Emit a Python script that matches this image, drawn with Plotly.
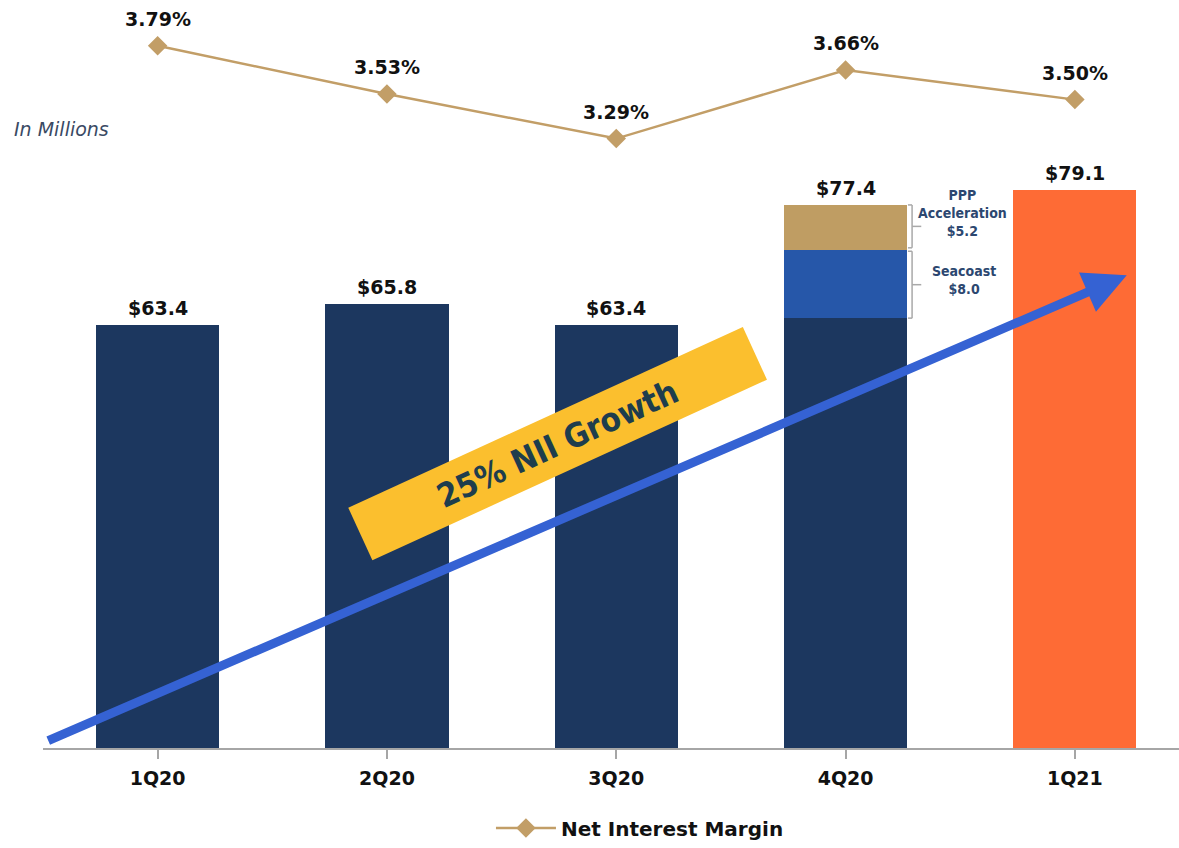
import plotly.graph_objects as go

# Net interest income by quarter (in millions) and net interest margin
quarters = ["1Q20", "2Q20", "3Q20", "4Q20", "1Q21"]
nii_total = [63.4, 65.8, 63.4, 77.4, 79.1]
seacoast_4q20 = 8.0
ppp_accel_4q20 = 5.2
nim_pct = [3.79, 3.53, 3.29, 3.66, 3.50]

NAVY = "#1c375f"
ORANGE = "#fe6b35"
GOLD = "#bf9d63"
MIDBLUE = "#2657a9"
LINE_GOLD = "#c29e67"
ARROW_BLUE = "#3562d3"
YELLOW = "#fbbf2e"
LABEL_BLUE = "#2c4770"
BOLD_FONT = "DejaVu Sans"
NARROW = "DejaVu Sans Condensed, Roboto, sans-serif"

core = [
    t - seacoast_4q20 - ppp_accel_4q20 if q == "4Q20" else t
    for q, t in zip(quarters, nii_total)
]
seacoast = [seacoast_4q20 if q == "4Q20" else None for q in quarters]
ppp = [ppp_accel_4q20 if q == "4Q20" else None for q in quarters]
core_colors = [ORANGE if q == "1Q21" else NAVY for q in quarters]

fig = go.Figure()
fig.add_trace(go.Bar(x=quarters, y=core, marker=dict(color=core_colors, line_width=0),
                     showlegend=False, hoverinfo="skip"))
fig.add_trace(go.Bar(x=quarters, y=seacoast, marker=dict(color=MIDBLUE, line_width=0),
                     showlegend=False, hoverinfo="skip"))
fig.add_trace(go.Bar(x=quarters, y=ppp, marker=dict(color=GOLD, line_width=0),
                     showlegend=False, hoverinfo="skip"))
fig.add_trace(go.Scatter(
    x=quarters, y=nim_pct, yaxis="y2", name="Net Interest Margin",
    mode="lines+markers",
    line=dict(color=LINE_GOLD, width=2.5),
    marker=dict(symbol="diamond", size=15, color=LINE_GOLD),
))

annotations = []
# Total NII labels above bars
for q, t in zip(quarters, nii_total):
    annotations.append(dict(x=q, y=t, xref="x", yref="y", text=f"${t:.1f}",
                            showarrow=False, yanchor="bottom", yshift=4,
                            font=dict(family=BOLD_FONT, size=19, color="#111111", weight="bold")))
# NIM labels above markers
for q, v in zip(quarters, nim_pct):
    annotations.append(dict(x=q, y=v, xref="x", yref="y2", text=f"{v:.2f}%",
                            showarrow=False, yanchor="bottom", yshift=14,
                            font=dict(family=BOLD_FONT, size=19, color="#111111", weight="bold")))

# Bracket labels for 4Q20 components
base_4q = nii_total[3] - seacoast_4q20 - ppp_accel_4q20
annotations.append(dict(x=3.51, y=base_4q + seacoast_4q20 + ppp_accel_4q20 / 2, xref="x", yref="y",
                        text=f"PPP<br>Acceleration<br>${ppp_accel_4q20:.1f}", showarrow=False,
                        yshift=14, align="center",
                        font=dict(family=NARROW, size=14, color=LABEL_BLUE, weight="bold")))
annotations.append(dict(x=3.515, y=base_4q + seacoast_4q20 / 2, xref="x", yref="y",
                        text=f"Seacoast<br>${seacoast_4q20:.1f}", showarrow=False,
                        yshift=4, align="center",
                        font=dict(family=NARROW, size=14, color=LABEL_BLUE, weight="bold")))

# Growth arrow
annotations.append(dict(x=0.954, y=0.632, xref="paper", yref="paper", text="",
                        showarrow=True, ax=-1080, ay=466, axref="pixel", ayref="pixel",
                        arrowhead=2, arrowsize=0.95, arrowwidth=9, arrowcolor=ARROW_BLUE))

# Growth banner
annotations.append(dict(x=0.4533, y=0.4073, xref="paper", yref="paper",
                        text="25% NII Growth", showarrow=False, textangle=-24.6,
                        width=433, height=57, bgcolor=YELLOW, borderpad=0,
                        font=dict(family=NARROW, size=33, color="#1e3d4d", weight="bold")))

# Unit note
annotations.append(dict(x=-0.027, y=0.827, xref="paper", yref="paper", text="In Millions",
                        showarrow=False, xanchor="left", yanchor="middle",
                        font=dict(family="DejaVu Sans", size=19, color="#3a4a64", style="italic")))

# Brackets beside the 4Q20 stack
shapes = []
bracket_color = "#a9a9a9"
def bracket(y_top, y_bot):
    xv, xl, xr = 3.29, 3.272, 3.33
    ym = (y_top + y_bot) / 2
    segs = [(xv, y_top, xv, y_bot), (xl, y_top, xv, y_top), (xl, y_bot, xv, y_bot), (xv, ym, xr, ym)]
    for x0, y0, x1, y1 in segs:
        shapes.append(dict(type="line", xref="x", yref="y", x0=x0, y0=y0, x1=x1, y1=y1,
                           line=dict(color=bracket_color, width=1.5)))

bracket(nii_total[3], base_4q + seacoast_4q20 + 0.2)
bracket(base_4q + seacoast_4q20 - 0.2, base_4q)

fig.update_layout(
    width=1179, height=848,
    margin=dict(l=43, r=0, t=0, b=98),
    paper_bgcolor="white", plot_bgcolor="white",
    barmode="stack", bargap=0.463,
    xaxis=dict(type="category", range=[-0.5, 4.454], showline=True, linecolor="#a6a6a6",
               linewidth=2, ticks="outside", ticklen=9, tickcolor="#a6a6a6", tickwidth=1.5,
               showgrid=False, zeroline=False, ticklabelstandoff=3,
               tickfont=dict(family=BOLD_FONT, size=19, color="#111111", weight="bold")),
    yaxis=dict(range=[14.07, 101.3], visible=False, showgrid=False, zeroline=False),
    yaxis2=dict(range=[0.005, 4.037], overlaying="y", visible=False, showgrid=False,
                zeroline=False),
    legend=dict(orientation="h", x=0.5255, xanchor="center", y=-0.107, yanchor="middle",
                font=dict(family=BOLD_FONT, size=20, color="#111111", weight="bold"),
                itemwidth=60),
    annotations=annotations,
    shapes=shapes,
)

fig.write_html("out.html")
